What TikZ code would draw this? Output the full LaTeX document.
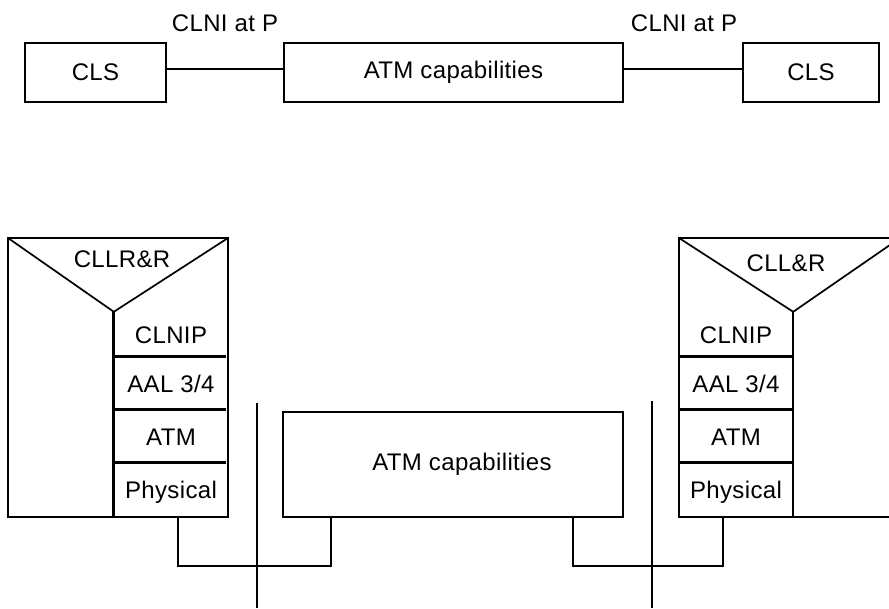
\documentclass[tikz,border=0pt]{standalone}
\usepackage{fontspec}
\setmainfont{Liberation Sans}[LetterSpace=1.5]
\begin{document}
\begin{tikzpicture}[x=1pt, y=-1pt,
    every node/.style={font=\fontsize{24}{28}\selectfont},
    box/.style={draw, line width=0.6mm, inner sep=0pt},
    layer/.style={minimum width=114pt, inner sep=0pt, text height=17pt, text depth=0pt},
    frame/.style={line width=0.6mm},
    wire/.style={line width=0.9mm}]
    \useasboundingbox (0,0) rectangle (889,608);

    % Top row
    \node [box, minimum width=141pt, minimum height=59pt] (clsL) at (95.5,72.5) {CLS};
    \node [box, minimum width=339pt, minimum height=59pt] (atmT) at (453.5,72.5) {ATM capabilities};
    \node [box, minimum width=136pt, minimum height=59pt] (clsR) at (811,72.5) {CLS};
    \draw [wire] ([yshift=3.5pt]clsL.east) -- ([yshift=3.5pt]atmT.west);
    \draw [wire] ([yshift=3.5pt]atmT.east) -- ([yshift=3.5pt]clsR.west);
    \node (niL) at (225,23) {CLNI at P};
    \node (niR) at (684,23) {CLNI at P};

    % Left stack
    \node [layer, minimum height=45pt] (lclnip) at (171,334.5) {CLNIP};
    \node [layer, minimum height=53pt] (laal) at (171,383.5) {AAL 3/4};
    \node [layer, minimum height=53pt] (latm) at (171,436.5) {ATM};
    \node [layer, minimum height=54pt] (lphys) at (171,490) {Physical};
    \node (lcll) at (122,259) {CLLR\&R};
    \draw [frame] (8,238) rectangle (228,517);
    \draw [frame] (8,238) -- (lclnip.north west) -- (228,238);
    \draw [line width=1mm] (lclnip.north west) -- (lphys.south west);
    \foreach \c in {laal, latm, lphys}
        \draw [line width=1mm] (\c.north west) -- ([xshift=-2pt]\c.north east);

    % Right stack
    \node [layer, minimum height=45pt] (rclnip) at (736,334.5) {CLNIP};
    \node [layer, minimum height=53pt] (raal) at (736,383.5) {AAL 3/4};
    \node [layer, minimum height=53pt] (ratm) at (736,436.5) {ATM};
    \node [layer, minimum height=54pt] (rphys) at (736,490) {Physical};
    \node (rcll) at (786,263) {CLL\&R};
    \draw [frame] (905,238) -- (679,238) -- (679,517) -- (905,517);
    \draw [frame] (679,238) -- (rclnip.north east) -- (900,238);
    \draw [frame] (rclnip.north east) -- (rphys.south east);
    \foreach \c in {raal, ratm, rphys}
        \draw [line width=1mm] (\c.north west) -- (\c.north east);

    % Middle
    \node [box, minimum width=340pt, minimum height=105pt] (atmB) at (453,464.5) {\hspace*{18pt}ATM capabilities};
    \draw [wire] ([xshift=7pt]lphys.south) -- ++(0,49) -| ([xshift=49pt]atmB.south west);
    \draw [wire] ([xshift=-13pt]rphys.south) -- ++(0,49) -| ([xshift=-51pt]atmB.south east);

    % Boundaries
    \draw [frame] (257,403) -- (257,608);
    \draw [frame] (652,401) -- (652,608);
\end{tikzpicture}
\end{document}
